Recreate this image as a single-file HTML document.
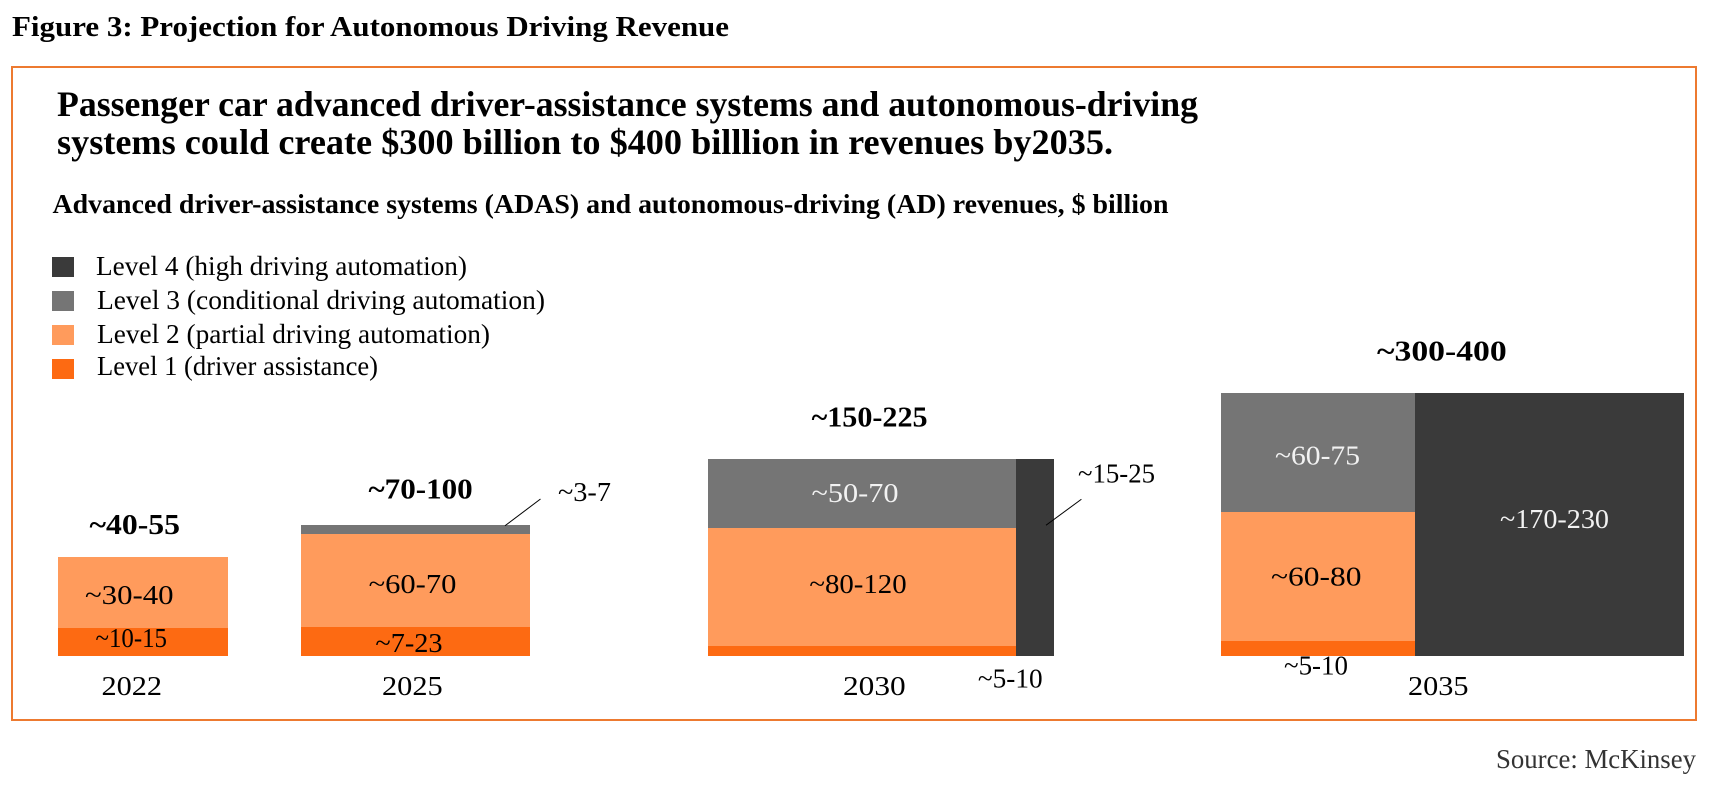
<!DOCTYPE html>
<html lang="en">
<head>
<meta charset="utf-8">
<title>Projection for Autonomous Driving Revenue</title>
<style>
  html, body { margin: 0; padding: 0; background: #fff; }
  svg { display: block; }
  text { font-family: "Liberation Serif", "DejaVu Serif", serif; fill: #000; }
  .bold { font-weight: 700; }
</style>
</head>
<body>
<svg id="chart" xmlns="http://www.w3.org/2000/svg" width="1712" height="790" viewBox="0 0 1712 790">
  <rect x="0" y="0" width="1712" height="790" fill="#ffffff"/>
  <text class="bold" x="12" y="36" font-size="28" textLength="717" lengthAdjust="spacingAndGlyphs">Figure 3: Projection for Autonomous Driving Revenue</text>
  <rect x="12" y="67" width="1684" height="653" fill="none" stroke="#ED7A30" stroke-width="2"/>
  <text class="bold" x="57" y="116" font-size="36" textLength="1141" lengthAdjust="spacingAndGlyphs">Passenger car advanced driver-assistance systems and autonomous-driving</text>
  <text class="bold" x="57" y="154" font-size="36" textLength="1056" lengthAdjust="spacingAndGlyphs">systems could create $300 billion to $400 billlion in revenues by2035.</text>
  <text class="bold" x="52.5" y="213" font-size="27" textLength="1116" lengthAdjust="spacingAndGlyphs">Advanced driver-assistance systems (ADAS) and autonomous-driving (AD) revenues, $ billion</text>

  <g>
    <rect x="52" y="257" width="22" height="20" fill="#3A3A3A"/>
    <text x="96" y="275" font-size="27" textLength="371" lengthAdjust="spacingAndGlyphs">Level 4 (high driving automation)</text>
    <rect x="52" y="291" width="22" height="20" fill="#757575"/>
    <text x="97" y="309" font-size="27" textLength="448" lengthAdjust="spacingAndGlyphs">Level 3 (conditional driving automation)</text>
    <rect x="52" y="325" width="22" height="20" fill="#FF9B5C"/>
    <text x="97" y="343" font-size="27" textLength="393" lengthAdjust="spacingAndGlyphs">Level 2 (partial driving automation)</text>
    <rect x="52" y="359" width="22" height="20" fill="#FD6A12"/>
    <text x="97" y="375" font-size="27" textLength="281" lengthAdjust="spacingAndGlyphs">Level 1 (driver assistance)</text>
  </g>

  <g id="marks"></g>

  <text x="1496" y="768" font-size="27" textLength="200" lengthAdjust="spacingAndGlyphs" style="fill:#333">Source: McKinsey</text>
</svg>

<script>
// ---- chart data (revenue in $ billion) ----
const years = ['2022', '2025', '2030', '2035'];
const level1Values = [13.6, 19, 8.8, 8.3];
const level2Values = [34.5, 60.8, 103.8, 71.5];
const level3Values = [0, 5.9, 60.7, 66];
const level4Values = [0, 0, 21.4, 202.1];
// Column weights of the area-proportional (Marimekko style) chart
const stackSpans = [1.7, 2.29, 3.08, 1.94];
const level4Spans = [0, 0, 0.38, 2.69];

// ---- printed labels ----
const totalLabels = ['~40-55', '~70-100', '~150-225', '~300-400'];
const level1Labels = ['~10-15', '~7-23', '~5-10', '~5-10'];
const level2Labels = ['~30-40', '~60-70', '~80-120', '~60-80'];
const level3Labels = ['', '~3-7', '~50-70', '~60-75'];
const level4Labels = ['', '', '~15-25', '~170-230'];

// ---- layout (not data) ----
const LAYOUT = {
  originX: 58, baselineY: 656, unitX: 100, areaPerValue: 3.5,
  gapAfter: [73, 178, 167, 0],
  yearBaseline: 695,
  yearDx: [-11.25, -3.15, -6.65, -14.25],
  yearWidth: [60.5, 60.7, 62.7, 60.5],
  total: { dx: [-8.25, 5.1, -11.4, -10.65], dy: [-23, -26.3, -32.3, -32.3], w: [90.5, 104.2, 116, 129.7] },
  l1: { dx: [-11.75, -6.5, 148.3, -2], dy: [5, 10.5, 36.7, 26.2], w: [71.5, 67.2, 64.7, 64] },
  l2: { dx: [-13.7, -3, -4, -1.75], dy: [11.5, 12.5, 6, 9.2], w: [88.6, 87.8, 97.3, 90.5] },
  l3: { dx: [0, 169, -7, -0.5], dy: [0, -28.5, 8.2, 12.2], w: [0, 53, 87, 85] },
  l4: { dx: [0, 0, 81.5, 5], dy: [0, 0, -74.8, 3.5], w: [0, 0, 77, 109] },
  leaderL3: [89.5, -3.8, 125, -30.5],
  leaderL4: [11, -32.2, 46.4, -58.2]
};
const COLORS = { l1: '#FD6A12', l2: '#FF9B5C', l3: '#757575', l4: '#3A3A3A' };
const NS = 'http://www.w3.org/2000/svg';
const marks = document.getElementById('marks');

// ---- axis functions ----
function xLeft(i) {
  let x = LAYOUT.originX;
  for (let k = 0; k < i; k++) {
    x += (stackSpans[k] + level4Spans[k]) * LAYOUT.unitX + LAYOUT.gapAfter[k];
  }
  return x;
}
function spanWidth(span) { return span * LAYOUT.unitX; }
function segmentHeight(value, span) { return span > 0 ? value * LAYOUT.areaPerValue / span : 0; }
function yTop(stackedHeight) { return LAYOUT.baselineY - stackedHeight; }

function addRect(x, y, w, h, fill) {
  const el = document.createElementNS(NS, 'rect');
  el.setAttribute('x', x);
  el.setAttribute('y', y);
  el.setAttribute('width', w);
  el.setAttribute('height', h);
  el.setAttribute('fill', fill);
  el.setAttribute('shape-rendering', 'crispEdges');
  marks.appendChild(el);
  return el;
}
function addText(str, cx, y, w, size, bold, fill) {
  const el = document.createElementNS(NS, 'text');
  el.textContent = str;
  el.setAttribute('x', cx);
  el.setAttribute('y', y);
  el.setAttribute('text-anchor', 'middle');
  el.setAttribute('font-size', size);
  if (w) {
    el.setAttribute('textLength', w);
    el.setAttribute('lengthAdjust', 'spacingAndGlyphs');
  }
  if (bold) el.setAttribute('class', 'bold');
  if (fill) el.style.fill = fill;
  marks.appendChild(el);
  return el;
}
function addLeader(cx, cy, o) {
  const el = document.createElementNS(NS, 'line');
  el.setAttribute('x1', cx + o[0]);
  el.setAttribute('y1', cy + o[1]);
  el.setAttribute('x2', cx + o[2]);
  el.setAttribute('y2', cy + o[3]);
  el.setAttribute('stroke', '#000');
  el.setAttribute('stroke-width', '1');
  marks.appendChild(el);
  return el;
}

years.forEach(function (year, i) {
  const x0 = xLeft(i);
  const w = spanWidth(stackSpans[i]);
  const cx = x0 + w / 2;
  const colW = w + spanWidth(level4Spans[i]);
  const colCx = x0 + colW / 2;
  const h1 = segmentHeight(level1Values[i], stackSpans[i]);
  const h2 = segmentHeight(level2Values[i], stackSpans[i]);
  const h3 = segmentHeight(level3Values[i], stackSpans[i]);
  const h4 = segmentHeight(level4Values[i], level4Spans[i]);

  const r1 = addRect(x0, yTop(h1), w, h1, COLORS.l1);
  
  
  const r2 = addRect(x0, yTop(h1 + h2), w, h2, COLORS.l2);
  
  

  if (h3 > 0) {
    const r3 = addRect(x0, yTop(h1 + h2 + h3), w, h3, COLORS.l3);
    
    
  }
  if (h4 > 0) {
    const r4 = addRect(x0 + w, yTop(h4), spanWidth(level4Spans[i]), h4, COLORS.l4);
    
    
  }

  // segment labels
  const t1 = addText(level1Labels[i], cx + LAYOUT.l1.dx[i], yTop(h1 / 2) + LAYOUT.l1.dy[i], LAYOUT.l1.w[i], 27, false);
  
  
  const t2 = addText(level2Labels[i], cx + LAYOUT.l2.dx[i], yTop(h1 + h2 / 2) + LAYOUT.l2.dy[i], LAYOUT.l2.w[i], 27, false);
  
  

  if (level3Labels[i]) {
    const y3 = yTop(h1 + h2 + h3 / 2);
    const inside = h3 > 30;
    const t3 = addText(level3Labels[i], cx + LAYOUT.l3.dx[i], y3 + LAYOUT.l3.dy[i], LAYOUT.l3.w[i], 27, false, inside ? '#f2f2f2' : null);
    
    
    if (!inside) {
      const l3 = addLeader(cx, y3, LAYOUT.leaderL3);
      
      
    }
  }
  if (level4Labels[i]) {
    const cx4 = x0 + w + spanWidth(level4Spans[i]) / 2;
    const y4 = yTop(h4 / 2);
    const inside4 = spanWidth(level4Spans[i]) > 100;
    const t4 = addText(level4Labels[i], cx4 + LAYOUT.l4.dx[i], y4 + LAYOUT.l4.dy[i], LAYOUT.l4.w[i], 27, false, inside4 ? '#f2f2f2' : null);
    
    
    if (!inside4) {
      const l4 = addLeader(cx4, y4, LAYOUT.leaderL4);
      
      
    }
  }

  // total above column
  const top = yTop(Math.max(h1 + h2 + h3, h4));
  const tt = addText(totalLabels[i], colCx + LAYOUT.total.dx[i], top + LAYOUT.total.dy[i], LAYOUT.total.w[i], 28, true);
  
  

  // year tick label
  const ty = addText(year, colCx + LAYOUT.yearDx[i], LAYOUT.yearBaseline, LAYOUT.yearWidth[i], 27, false);
  
  
});
</script>
</body>
</html>
